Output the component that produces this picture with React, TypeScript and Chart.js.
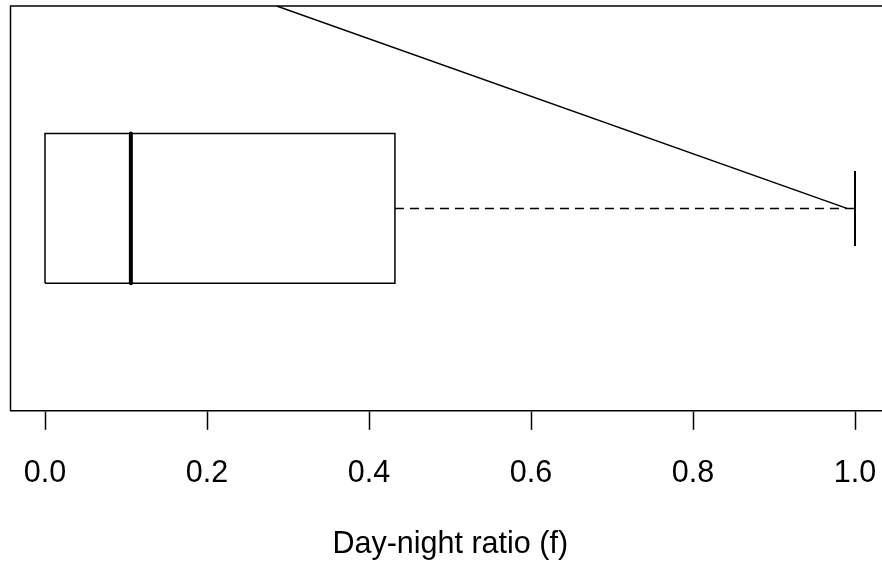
import React, { useEffect, useRef } from "react";
import { Chart, registerables } from "chart.js";

Chart.register(...registerables);

// ---- data ----
const categories = ["Day-night ratio (f)"];
const whiskerLow = [0.0];
const quartile1 = [0.0];
const medianVal = [0.106];
const quartile3 = [0.432];
const whiskerHigh = [1.0];
const xTicks = [0.0, 0.2, 0.4, 0.6, 0.8, 1.0];
const diagonalX = [0.286, 0.99];
const diagonalY = [1.54, 1.0];

// axis ranges
const xMin = -0.0426;
const xMax = 1.0432;
const yMin = 0.46;
const yMax = 1.54;
const boxCenter = 1;
const boxHalf = 0.2;
const stapleHalf = 0.1;

const FONT = "'Liberation Sans', Arial, Helvetica, sans-serif";

const framePlugin = {
  id: "frame",
  afterDraw(chart: any) {
    const { ctx, chartArea } = chart;
    ctx.save();
    ctx.strokeStyle = "#000";
    ctx.lineWidth = 1.5;
    ctx.beginPath();
    ctx.moveTo(chartArea.left, chartArea.bottom);
    ctx.lineTo(chartArea.left, chartArea.top);
    ctx.lineTo(chartArea.right, chartArea.top);
    ctx.lineTo(chartArea.right, chartArea.bottom);
    ctx.stroke();
    ctx.restore();
  },
};

export default function App() {
  const ref = useRef<HTMLCanvasElement>(null);
  useEffect(() => {
    const i = 0;
    const lo = boxCenter - boxHalf;
    const hi = boxCenter + boxHalf;
    const base = {
      showLine: true,
      pointRadius: 0,
      borderColor: "#000",
      backgroundColor: "#000",
      fill: false,
    };
    const chart = new Chart(ref.current as HTMLCanvasElement, {
      type: "scatter",
      data: {
        datasets: [
          {
            ...base,
            label: "box",
            borderWidth: 1.5,
            borderJoinStyle: "miter",
            data: [
              { x: quartile1[i], y: lo },
              { x: quartile3[i], y: lo },
              { x: quartile3[i], y: hi },
              { x: quartile1[i], y: hi },
              { x: quartile1[i], y: lo },
            ],
          },
          {
            ...base,
            label: "median",
            borderWidth: 4,
            borderCapStyle: "round",
            data: [
              { x: medianVal[i], y: lo },
              { x: medianVal[i], y: hi },
            ],
          },
          {
            ...base,
            label: "upper whisker",
            borderWidth: 1.5,
            borderDash: [9, 6],
            data: [
              { x: quartile3[i], y: boxCenter },
              { x: whiskerHigh[i], y: boxCenter },
            ],
          },
          {
            ...base,
            label: "lower whisker",
            borderWidth: 1.5,
            borderDash: [9, 6],
            data: [
              { x: quartile1[i], y: boxCenter },
              { x: whiskerLow[i], y: boxCenter },
            ],
          },
          {
            ...base,
            label: "upper staple",
            borderWidth: 2,
            data: [
              { x: whiskerHigh[i], y: boxCenter - stapleHalf },
              { x: whiskerHigh[i], y: boxCenter + stapleHalf },
            ],
          },
          {
            ...base,
            label: "diagonal",
            borderWidth: 1.5,
            data: diagonalX.map((x, k) => ({ x, y: diagonalY[k] })),
          },
        ],
      },
      options: {
        animation: false,
        responsive: false,
        layout: { padding: { left: 10.5, top: 6, right: 10, bottom: -2 } },
        plugins: {
          legend: { display: false },
          tooltip: { enabled: false },
          title: { display: false },
        },
        scales: {
          x: {
            type: "linear",
            min: xMin,
            max: xMax,
            afterBuildTicks: (scale: any) => {
              scale.ticks = xTicks.map((v) => ({ value: v }));
            },
            afterFit: (scale: any) => {
              scale.paddingLeft = 0;
              scale.paddingRight = 0;
            },
            grid: {
              drawOnChartArea: false,
              drawTicks: true,
              tickLength: 19,
              tickColor: "#000",
              tickWidth: 1.5,
              color: "#000",
            },
            border: { display: true, color: "#000", width: 1.5 },
            ticks: {
              color: "#000",
              padding: 25,
              maxRotation: 0,
              autoSkip: false,
              font: { family: FONT, size: 30.5 },
              callback: (v: any) => Number(v).toFixed(1),
            },
            title: {
              display: true,
              text: categories[0],
              color: "#000",
              font: { family: FONT, size: 30.5 },
              padding: { top: 10, bottom: 0 },
            },
          },
          y: {
            type: "linear",
            min: yMin,
            max: yMax,
            display: false,
          },
        },
      },
      plugins: [framePlugin],
    } as any);
    return () => chart.destroy();
  }, []);
  return (
    <div
      style={{
        position: "fixed",
        left: 0,
        top: 0,
        width: 882,
        height: 561,
        overflow: "hidden",
        background: "#fff",
      }}
    >
      <canvas ref={ref} width={900} height={561} style={{ display: "block" }} />
    </div>
  );
}
